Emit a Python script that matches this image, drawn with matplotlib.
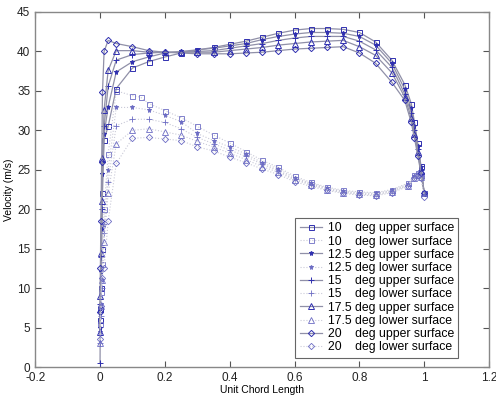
import matplotlib.pyplot as plt
import matplotlib.ticker as mticker

plt.rcParams['font.family'] = ['Liberation Sans', 'DejaVu Sans']

# chord positions
x_up = [0.0, 0.001, 0.0025, 0.005, 0.0075, 0.0125, 0.025, 0.05, 0.1, 0.15,
        0.2, 0.25, 0.3, 0.35, 0.4, 0.45, 0.5, 0.55, 0.6, 0.65, 0.7, 0.75,
        0.8, 0.85, 0.9, 0.94, 0.96, 0.97, 0.98, 0.99, 1.0]
x_lo = [0.0, 0.0025, 0.005, 0.0125, 0.025, 0.05, 0.1, 0.15, 0.2, 0.25, 0.3,
        0.35, 0.4, 0.45, 0.5, 0.55, 0.6, 0.65, 0.7, 0.75, 0.8, 0.85, 0.9,
        0.95, 0.97, 0.98, 0.99, 1.0]
x_lo10 = [0.0, 0.0025, 0.005, 0.0125, 0.025, 0.05, 0.1, 0.125, 0.15, 0.2,
          0.25, 0.3, 0.35, 0.4, 0.45, 0.5, 0.55, 0.6, 0.65, 0.7, 0.75, 0.8,
          0.85, 0.9, 0.95, 0.97, 0.98, 0.99, 1.0]

up_10 = [6.0, 7.3, 10.0, 15.0, 22.0, 28.8, 30.5, 35.3, 37.9, 38.7, 39.3, 39.8,
         40.2, 40.5, 40.9, 41.3, 41.8, 42.3, 42.7, 42.9, 42.9, 42.8, 42.4,
         41.2, 38.9, 35.8, 33.4, 31.0, 28.4, 25.5, 22.0]
up_125 = [5.0, 7.5, 12.0, 17.5, 24.5, 29.5, 33.0, 37.4, 38.7, 39.3, 39.8,
          40.0, 40.2, 40.4, 40.7, 41.0, 41.5, 41.9, 42.2, 42.4, 42.4, 42.3,
          41.9, 40.8, 38.5, 35.2, 32.8, 30.5, 28.0, 25.3, 22.0]
up_15 = [0.5, 8.0, 14.0, 20.0, 26.0, 30.5, 35.6, 38.9, 39.6, 39.8, 39.9,
         39.9, 40.0, 40.1, 40.4, 40.7, 41.0, 41.4, 41.7, 41.9, 41.9, 41.9,
         41.3, 40.2, 38.0, 34.6, 32.2, 30.0, 27.6, 25.0, 22.0]
up_175 = [4.5, 9.0, 14.5, 21.0, 26.5, 32.6, 37.6, 40.1, 40.1, 39.9, 39.9,
          39.9, 39.9, 39.9, 40.1, 40.3, 40.5, 40.8, 41.0, 41.2, 41.3, 41.4,
          40.6, 39.5, 37.3, 34.2, 31.6, 29.5, 27.2, 24.8, 22.0]
up_20 = [7.0, 12.5, 18.5, 26.0, 34.8, 40.0, 41.4, 41.0, 40.6, 40.1, 39.9,
         39.8, 39.7, 39.7, 39.7, 39.8, 39.9, 40.1, 40.3, 40.4, 40.5, 40.6,
         39.8, 38.5, 36.1, 33.8, 31.0, 29.0, 26.8, 24.6, 22.0]

lo_10 = [5.5, 9.5, 13.0, 20.0, 27.0, 35.0, 34.4, 34.2, 33.4, 32.5, 31.6,
         30.5, 29.4, 28.4, 27.3, 26.2, 25.3, 24.2, 23.4, 22.8, 22.4, 22.2,
         22.1, 22.5, 23.3, 24.3, 24.6, 24.3, 22.0]
lo_125 = [4.5, 8.0, 11.0, 18.0, 25.0, 32.9, 32.9, 32.6, 31.9, 31.1, 29.6,
          28.7, 27.9, 27.0, 25.9, 25.1, 24.0, 23.3, 22.7, 22.3, 22.1, 22.0,
          22.4, 23.2, 24.2, 24.5, 24.2, 22.0]
lo_15 = [3.0, 6.5, 10.0, 17.0, 23.5, 30.6, 31.4, 31.4, 31.0, 30.2, 29.1,
         28.3, 27.5, 26.7, 25.7, 24.9, 23.8, 23.2, 22.6, 22.2, 22.0, 21.9,
         22.3, 23.1, 24.1, 24.5, 24.2, 22.0]
lo_175 = [3.0, 7.7, 11.0, 15.9, 22.0, 28.3, 30.0, 30.2, 29.8, 29.4, 28.6,
          27.9, 27.1, 26.3, 25.4, 24.7, 23.7, 23.1, 22.5, 22.1, 21.9, 21.8,
          22.2, 23.0, 24.0, 24.4, 24.1, 22.0]
lo_20 = [3.5, 7.7, 11.3, 12.5, 18.5, 25.8, 29.0, 29.1, 28.9, 28.7, 27.9,
         27.4, 26.6, 25.9, 25.1, 24.4, 23.5, 22.9, 22.4, 22.0, 21.8, 21.7,
         22.1, 22.9, 23.9, 24.3, 24.0, 21.5]

angles = ['10', '12.5', '15', '17.5', '20']
markers = ['s', '*', '+', '^', 'D']
upper = [up_10, up_125, up_15, up_175, up_20]
lower = [lo_10, lo_125, lo_15, lo_175, lo_20]
lower_x = [x_lo10, x_lo, x_lo, x_lo, x_lo]

pad = {'10': '10    ', '12.5': '12.5 ', '15': '15    ', '17.5': '17.5 ', '20': '20    '}
sizes = {'s': 3.6, '*': 3.6, '+': 4.5, '^': 3.8, 'D': 3.2}

fig = plt.figure(figsize=(4.96, 3.99), dpi=100)
ax = fig.add_axes([0.071, 0.080, 0.915, 0.890])

for a, m, yu, yl, xl in zip(angles, markers, upper, lower, lower_x):
    fill_up = '#3030b0' if m == '*' else 'none'
    fill_lo = '#6c6cc4' if m == '*' else 'none'
    ax.plot(x_up, yu, color='#9090a8', lw=0.9, marker=m, ms=sizes[m],
            mfc=fill_up, mec='#3030b0', mew=0.7,
            label=pad[a] + 'deg upper surface')
    ax.plot(xl, yl, color='#cacad8', lw=0.8, ls=':', marker=m, ms=sizes[m],
            mfc=fill_lo, mec='#6c6cc4', mew=0.6,
            label=pad[a] + 'deg lower surface')

ax.set_xlim(-0.2, 1.2)
ax.set_ylim(0, 45)
ax.set_xticks([-0.2, 0, 0.2, 0.4, 0.6, 0.8, 1.0, 1.2])
ax.xaxis.set_major_formatter(mticker.FixedFormatter(
    ['-0.2', '0', '0.2', '0.4', '0.6', '0.8', '1', '1.2']))
ax.set_yticks(range(0, 46, 5))
ax.tick_params(direction='in', top=True, right=True, labelsize=8.5,
               color='#555555', length=4, labelcolor='#222222')
for s in ax.spines.values():
    s.set_color('#888888')
    s.set_linewidth(1.0)

ax.set_xlabel('Unit Chord Length', fontsize=7.5, labelpad=1)
ax.set_ylabel('Velocity (m/s)', fontsize=7.5, labelpad=2)

leg = ax.legend(loc='upper left', bbox_to_anchor=(0.56, 0.437), fontsize=8.8,
                fancybox=False, framealpha=1, edgecolor='#666666',
                handlelength=1.8, labelspacing=0.1, borderpad=0.35,
                handletextpad=0.5)
leg.get_frame().set_linewidth(0.8)

plt.savefig('out.png', dpi=100)
